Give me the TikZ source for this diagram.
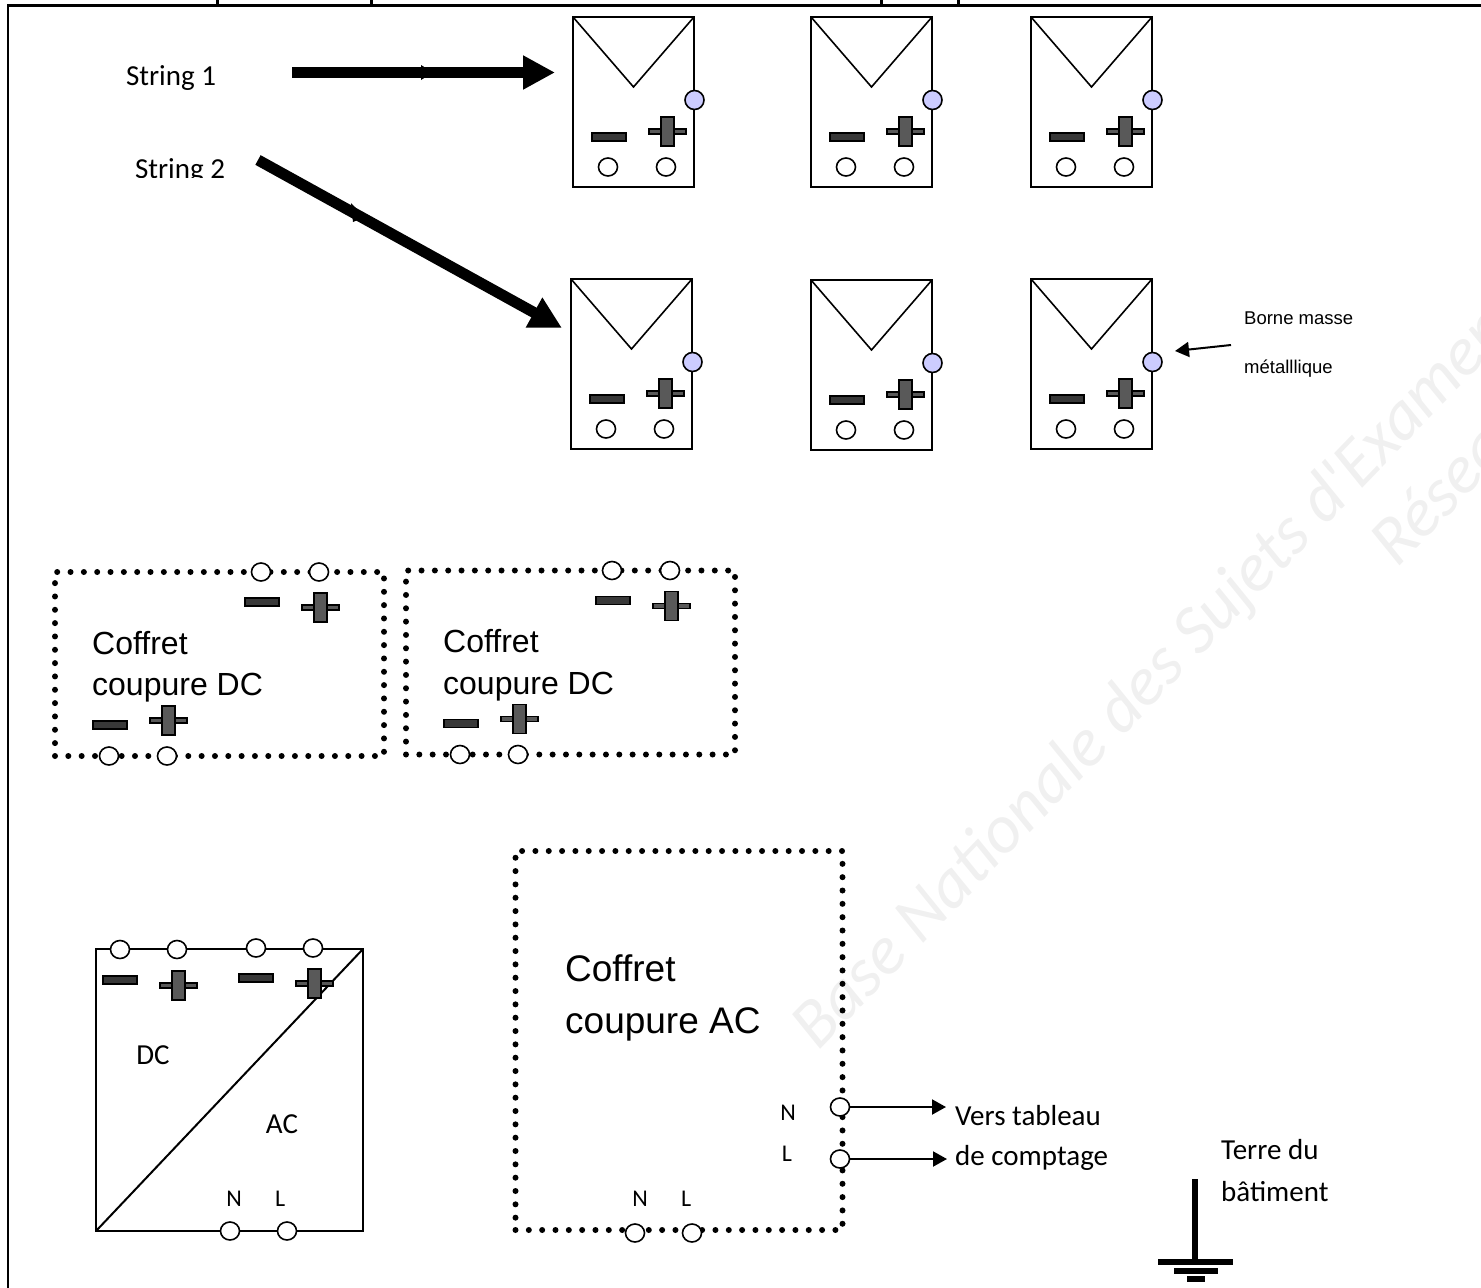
\documentclass[tikz,border=0pt]{standalone}
\usepackage{fontspec}
\setmainfont{Liberation Sans}
\newfontfamily\carl{Carlito}
\usetikzlibrary{shapes.geometric,arrows.meta}
\tikzset{
  terminal/.style={draw=black,line width=1.6pt,fill=white,ellipse,inner sep=0pt,minimum width=19pt,minimum height=18pt},
  massdot/.style={draw=black,line width=1.6pt,fill=blue!20,ellipse,inner sep=0pt,minimum width=19pt,minimum height=19pt},
  panelbox/.style={draw=black,line width=2pt,anchor=north west,inner sep=0pt,outer sep=0pt,minimum width=121pt,minimum height=170pt},
  dottedbox/.style={draw=black,line width=6pt,line cap=round,dash pattern=on 0pt off 13.33pt,anchor=north west,inner sep=0pt,outer sep=0pt},
  plainbox/.style={draw=black,line width=2pt,anchor=north west,inner sep=0pt,outer sep=0pt},
  minusbar/.style={draw=black,line width=1.8pt,fill=black!78},
  plusbar/.style={draw=black,line width=1.8pt,fill=black!65},
  heavy/.style={line width=11pt,-{Triangle[length=32pt,width=32pt]}},
  thinarrow/.style={line width=2pt,-{Triangle[length=14pt,width=15pt]}},
  carltext/.style={inner sep=0pt,font=\carl\fontsize{29}{34}\selectfont},
  carlsmall/.style={inner sep=0pt,font=\carl\fontsize{24}{28}\selectfont},
  carlleft/.style={carltext,anchor=west},
  dclabel/.style={inner sep=0pt,anchor=west,font=\fontsize{32}{38}\selectfont},
  aclabel/.style={inner sep=0pt,anchor=west,font=\fontsize{37}{44}\selectfont},
  smalllabel/.style={inner sep=0pt,anchor=west,font=\fontsize{18.5}{22}\selectfont},
  wmark/.style={inner sep=0pt,anchor=base west,text=black!6,font=\carl\itshape\fontsize{69}{82}\selectfont}
}
% minus and plus symbols: x of minus, top of minus, top of plus
\newcommand{\signpair}[3]{
  \path[minusbar] (#1,#2) rectangle ++(34,8);
  \path[plusbar] (#1+57,#3+12) rectangle ++(37,5);
  \path[plusbar] (#1+69,#3) rectangle ++(13,29);
  \path[fill=black!65] (#1+70,#3+12) rectangle ++(11,5);
}
% name, x, y
\newcommand{\solarpanel}[3]{
  \begin{scope}[shift={(#2,#3)}]
    \node[panelbox] (#1) at (0,0) {};
    \coordinate (#1tip) at (60.5,70);
    \draw[line width=1.6pt,line join=miter] (#1.north west) -- (#1tip) -- (#1.north east);
    \node[massdot] (#1dot) at (121.5,83) {};
    \signpair{19}{116}{100}
    \node[terminal] (#1a) at (35,150) {};
    \node[terminal] (#1b) at (93,150) {};
  \end{scope}
}
% name, x, y: the DC breaker box
\newcommand{\dcbox}[3]{
  \begin{scope}[shift={(#2,#3)}]
    \node[dottedbox,minimum width=329pt,minimum height=184pt] (#1) at (0,0) {};
    \node[terminal] (#1a) at (206,0) {};
    \node[terminal] (#1b) at (264,0) {};
    \node[terminal] (#1c) at (54,184) {};
    \node[terminal] (#1d) at (112,184) {};
    \signpair{190}{26}{21}
    \signpair{38}{149}{134}
    \node[dclabel] (#1t) at (37,71) {Coffret};
    \node[dclabel] (#1u) at (37,116) {coupure DC};
  \end{scope}
}
\begin{document}
\begin{tikzpicture}[x=1pt,y=-1pt]
\useasboundingbox (0,0) rectangle (1481,1288);
\clip (0,0) rectangle (1481,1288);
% watermark
\node[wmark,rotate=46] (wm1) at (818,1052) {Base Nationale des Sujets d'Examens};
\node[wmark,rotate=46] (wm2) at (1397,569) {Réseau};
% clipped heading remnants
\foreach \hx in {216,370,880,957}
  \path[fill=black] (\hx,0) rectangle ++(3,5);
% outer frame
\draw[line width=2.5pt] (8,1290) -- (8,5.5) -- (1483,5.5);
% solar panels
\solarpanel{pa}{573}{17}
\solarpanel{pb}{811}{17}
\solarpanel{pc}{1031}{17}
\solarpanel{pd}{571}{279}
\solarpanel{pe}{811}{280}
\solarpanel{pf}{1031}{279}
% strings
\node[carltext] (s1) at (171,78) {String 1};
\begin{scope}
  \clip (100,150) rectangle (260,177);
  \node[carltext] (s2) at (180,171) {String 2};
\end{scope}
\coordinate (a1s) at (292,72.5);
\coordinate (a1e) at (555,72.5);
\draw[heavy] (a1s) -- (a1e);
\path[fill=black] (421,65) -- (433,72.5) -- (421,80) -- cycle;
\coordinate (a2s) at (258,160);
\coordinate (a2e) at (562,328);
\draw[heavy] (a2s) -- (a2e);
\path[fill=black] (351,203) -- (365,217) -- (353,222) -- cycle;
% mass terminal label
\node[smalllabel] (bm) at (1244,318) {Borne masse};
\node[smalllabel] (mt) at (1244,369) {métalllique};
\coordinate (ba) at (1231,345);
\coordinate (bb) at (1175,351);
\draw[thinarrow] (ba) -- (bb);
% DC boxes
\dcbox{da}{55}{572}
\dcbox{db}{406}{570.5}
% inverter
\node[plainbox,minimum width=267pt,minimum height=282pt] (inv) at (96,949) {};
\draw[line width=2pt] (inv.south west) -- (inv.north east);
\node[terminal] (i1) at (120,949.5) {};
\node[terminal] (i2) at (177,949.5) {};
\node[terminal] (i3) at (256,948) {};
\node[terminal] (i4) at (313,948) {};
\node[terminal] (i5) at (230,1231) {};
\node[terminal] (i6) at (287,1231) {};
\signpair{103}{976}{971}
\signpair{239}{974}{969}
\node[carltext] (dc) at (153,1055) {DC};
\node[carltext] (ac) at (282,1124) {AC};
\begin{scope}
  \clip (200,1180) rectangle (320,1206);
  \node[carlsmall] (in) at (234,1199) {N};
  \node[carlsmall,anchor=west] (il) at (275,1199) {L};
\end{scope}
% AC box
\node[dottedbox,minimum width=327pt,minimum height=379pt] (acb) at (515.5,851) {};
\node[aclabel] (act) at (565,968) {Coffret};
\node[aclabel] (acu) at (565,1024) {coupure AC};
\node[terminal] (an) at (840,1107) {};
\node[terminal] (al) at (840,1159) {};
\node[terminal] (ab1) at (635,1233) {};
\node[terminal] (ab2) at (692,1233) {};
\node[carlsmall] (nl) at (788,1113) {N};
\node[carlsmall] (ll) at (787,1154) {L};
\begin{scope}
  \clip (610,1180) rectangle (710,1206);
  \node[carlsmall] (bn) at (640,1199) {N};
  \node[carlsmall,anchor=west] (bl) at (681,1199) {L};
\end{scope}
\coordinate (ane) at (946,1107);
\coordinate (ale) at (947,1159);
\draw[thinarrow] (an) -- (ane);
\draw[thinarrow] (al) -- (ale);
\node[carlleft] (v1) at (955,1116) {Vers tableau};
\node[carlleft] (v2) at (955,1158) {de comptage};
% earth
\node[carlleft] (e1) at (1221,1150) {Terre du};
\node[carlleft] (e2) at (1221,1192) {bâtiment};
\path[fill=black] (1192,1179) rectangle (1198,1260);
\path[fill=black] (1158,1259) rectangle (1233,1265);
\path[fill=black] (1174,1268) rectangle (1218,1274);
\path[fill=black] (1187,1276) rectangle (1205,1282);
\end{tikzpicture}
\end{document}
